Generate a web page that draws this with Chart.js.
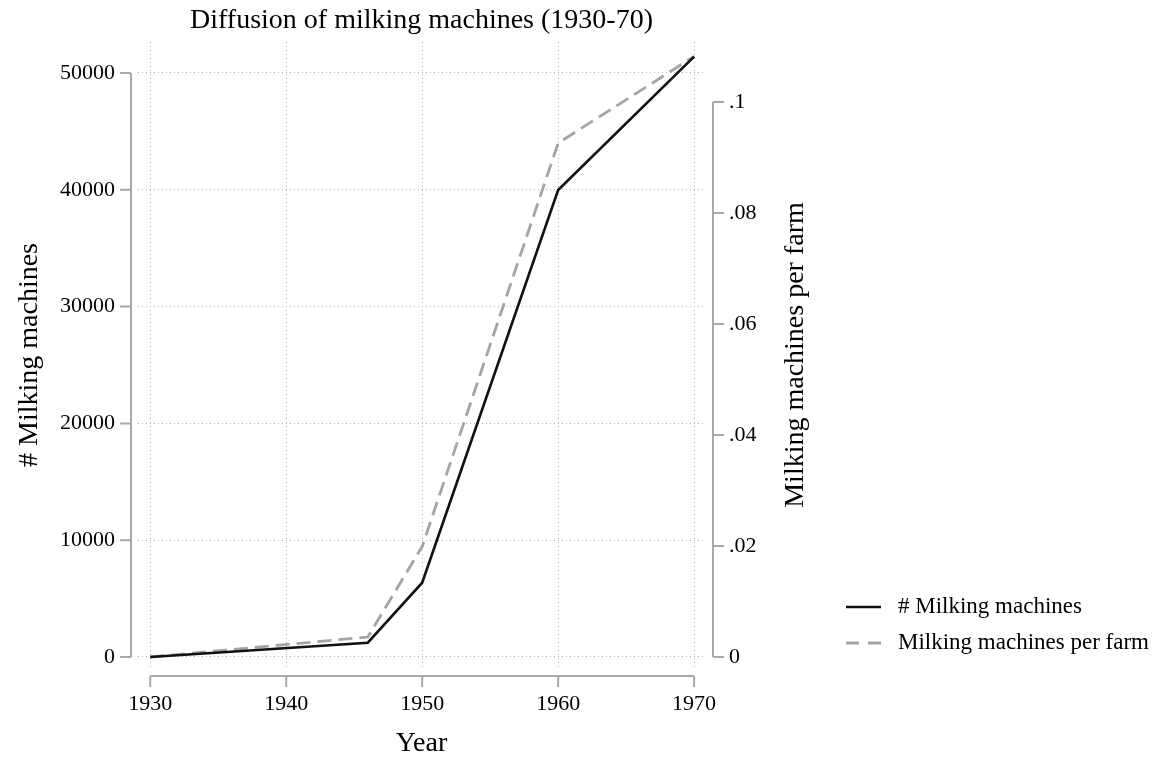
<!DOCTYPE html>
<html>
<head>
<meta charset="utf-8">
<script src="https://cdn.jsdelivr.net/npm/chart.js@4.4.1/dist/chart.umd.min.js"></script>
<style>
  html, body { margin: 0; padding: 0; background: #fff; }
</style>
</head>
<body>
<canvas id="grafico" width="1156" height="761"></canvas>
<script>
const years = [1930, 1946, 1950, 1960, 1970];
const machines = [0, 1220, 6360, 39980, 51400];
const perFarm = [0, 0.0036, 0.0199, 0.0926, 0.1082];

const yearTicks = [1930, 1940, 1950, 1960, 1970];
const machineTicks = [0, 10000, 20000, 30000, 40000, 50000];
const perFarmTicks = [0, 0.02, 0.04, 0.06, 0.08, 0.1];
const perFarmLabels = ["0", ".02", ".04", ".06", ".08", ".1"];

const serif = "'Liberation Serif', 'DejaVu Serif', serif";
const axisGray = "#a8a8a8";

// eixos deslocados da área do gráfico (estilo Stata)
const stataAxes = {
  id: "stataAxes",
  afterDraw(chart) {
    const { ctx, chartArea } = chart;
    const x = chart.scales.x, y = chart.scales.y, y1 = chart.scales.y1;
    ctx.save();
    ctx.strokeStyle = axisGray;
    ctx.lineWidth = 2;
    ctx.fillStyle = "#000";
    ctx.font = "22px " + serif;

    // eixo esquerdo
    const lx = chartArea.left - 7;
    ctx.beginPath();
    ctx.moveTo(lx, y.getPixelForValue(machineTicks[machineTicks.length - 1]));
    ctx.lineTo(lx, y.getPixelForValue(0));
    machineTicks.forEach(v => {
      const py = y.getPixelForValue(v);
      ctx.moveTo(lx, py); ctx.lineTo(lx - 11, py);
    });
    ctx.stroke();
    ctx.textAlign = "right"; ctx.textBaseline = "middle";
    machineTicks.forEach(v => ctx.fillText(String(v), lx - 16, y.getPixelForValue(v)));

    // eixo inferior
    const by = chartArea.bottom + 8;
    ctx.beginPath();
    ctx.moveTo(x.getPixelForValue(yearTicks[0]), by);
    ctx.lineTo(x.getPixelForValue(yearTicks[yearTicks.length - 1]), by);
    yearTicks.forEach(v => {
      const px = x.getPixelForValue(v);
      ctx.moveTo(px, by); ctx.lineTo(px, by + 11);
    });
    ctx.stroke();
    ctx.textAlign = "center"; ctx.textBaseline = "top";
    yearTicks.forEach(v => ctx.fillText(String(v), x.getPixelForValue(v), by + 17));

    // eixo direito
    const rx = chartArea.right + 8;
    ctx.beginPath();
    ctx.moveTo(rx, y1.getPixelForValue(perFarmTicks[perFarmTicks.length - 1]));
    ctx.lineTo(rx, y1.getPixelForValue(0));
    perFarmTicks.forEach(v => {
      const py = y1.getPixelForValue(v);
      ctx.moveTo(rx, py); ctx.lineTo(rx + 11, py);
    });
    ctx.stroke();
    ctx.textAlign = "left"; ctx.textBaseline = "middle";
    perFarmTicks.forEach((v, i) => ctx.fillText(perFarmLabels[i], rx + 16, y1.getPixelForValue(v)));

    // títulos
    const midY = (chartArea.top + chartArea.bottom) / 2;
    const midX = (chartArea.left + chartArea.right) / 2;
    ctx.font = "28px " + serif;
    ctx.textAlign = "center"; ctx.textBaseline = "middle";
    ctx.fillText("Diffusion of milking machines (1930-70)", midX, 21);
    ctx.fillText("Year", midX, 744);
    ctx.save();
    ctx.translate(30, midY); ctx.rotate(-Math.PI / 2);
    ctx.fillText("# Milking machines", 0, 0);
    ctx.restore();
    ctx.save();
    ctx.translate(796, midY); ctx.rotate(-Math.PI / 2);
    ctx.fillText("Milking machines per farm", 0, 0);
    ctx.restore();

    // legenda
    ctx.font = "23px " + serif;
    ctx.textAlign = "left";
    chart.data.datasets.forEach((ds, i) => {
      const ly = 607 + i * 36;
      ctx.beginPath();
      ctx.strokeStyle = ds.borderColor;
      ctx.lineWidth = ds.borderWidth;
      ctx.setLineDash(ds.borderDash ? [13, 9] : []);
      ctx.moveTo(846, ly); ctx.lineTo(881, ly);
      ctx.stroke();
      ctx.setLineDash([]);
      ctx.fillText(ds.label, 898, ly);
    });
    ctx.restore();
  }
};

const ctx = document.getElementById("grafico").getContext("2d");

new Chart(ctx, {
  type: "line",
  data: {
    datasets: [{
      label: "# Milking machines",
      data: years.map((yr, i) => ({ x: yr, y: machines[i] })),
      yAxisID: "y",
      borderColor: "#111",
      borderWidth: 2.6,
      pointRadius: 0,
      tension: 0
    }, {
      label: "Milking machines per farm",
      data: years.map((yr, i) => ({ x: yr, y: perFarm[i] })),
      yAxisID: "y1",
      borderColor: "#a4a4a4",
      borderWidth: 2.8,
      borderDash: [14, 7],
      pointRadius: 0,
      tension: 0
    }]
  },
  options: {
    responsive: false,
    animation: false,
    layout: { padding: { left: 138, right: 451, top: 42, bottom: 93 } },
    plugins: { legend: { display: false }, title: { display: false }, tooltip: { enabled: false } },
    scales: {
      x: {
        type: "linear",
        min: 1929.1,
        max: 1970.8,
        afterBuildTicks: s => { s.ticks = yearTicks.map(v => ({ value: v })); },
        ticks: { display: false },
        grid: { color: "#b4b4b4", lineWidth: 1, drawTicks: false },
        border: { display: false, dash: [1, 3] }
      },
      y: {
        type: "linear",
        position: "left",
        min: -942,
        max: 52650,
        afterBuildTicks: s => { s.ticks = machineTicks.map(v => ({ value: v })); },
        ticks: { display: false },
        grid: { color: "#b4b4b4", lineWidth: 1, drawTicks: false },
        border: { display: false, dash: [1, 3] }
      },
      y1: {
        type: "linear",
        position: "right",
        display: false,
        min: -0.00198,
        max: 0.1108
      }
    }
  },
  plugins: [stataAxes]
});
</script>
</body>
</html>
